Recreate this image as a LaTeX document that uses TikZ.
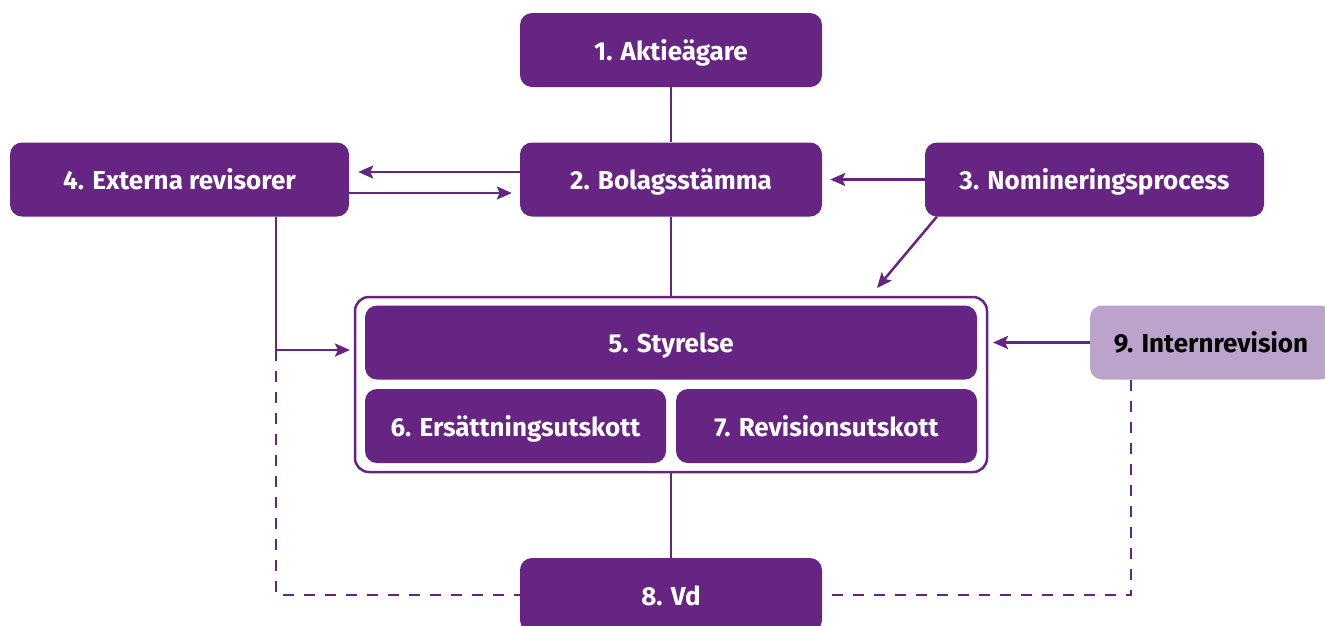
\documentclass[tikz,border=0pt]{standalone}
\usepackage{fontspec}
\setmainfont{Fira Sans}
\usetikzlibrary{arrows.meta}
\definecolor{dp}{HTML}{662483}
\definecolor{lp}{HTML}{BBA3CC}
\begin{document}
\begin{tikzpicture}[x=1pt,y=-1pt,
 box/.style={fill=dp, text=white, rounded corners=12pt, minimum width=302pt, minimum height=74pt, inner sep=0pt, text height=24pt, text depth=4pt, font=\fontsize{26}{30}\selectfont\bfseries},
 conn/.style={draw=dp, line width=2.5pt},
 arr/.style={conn, -{Stealth[length=15pt,width=13pt,inset=3pt]}},
 dashline/.style={conn, dash pattern=on 11pt off 10pt}]
\useasboundingbox (0,0) rectangle (1325,625);
\clip (0,0) rectangle (1325,625);
\node[box] (b1) at (671,50) {1. Aktieägare};
\node[box] (b2) at (671,179.5) {2. Bolagsstämma};
\node[box, minimum width=339pt] (b4) at (179.5,179.5) {4. Externa revisorer};
\node[box, minimum width=339pt] (b3) at (1094.5,179.5) {3. Nomineringsprocess};
\node[draw=dp, line width=2.5pt, rounded corners=14pt, minimum width=632pt, minimum height=175pt, inner sep=0pt] (fr) at (671,384.5) {};
\node[box, minimum width=612pt] (b5) at (671,342.5) {5. Styrelse};
\node[box, minimum width=301pt] (b6) at (515.5,426) {6. Ersättningsutskott};
\node[box, minimum width=301pt] (b7) at (826.5,426) {7. Revisionsutskott};
\node[box, fill=lp, text=black, minimum width=242pt] (b9) at (1211,342.5) {9. Internrevision};
\node[box] (b8) at (671,595) {8. Vd};
\coordinate (k4) at (276,350);
\coordinate (a4) at (350,350);
\coordinate (d4) at (276,595);
\coordinate (k9) at (1131,379.5);
\coordinate (d9) at (1131,595);
\coordinate (a9) at (993,342.5);
\coordinate (a3) at (877,288);
\draw[conn] (b1) -- (b2);
\draw[conn] (b2) -- (fr);
\draw[conn] (fr) -- (b8);
\draw[arr] ([yshift=7.5pt]b2.west) -- ([yshift=7.5pt,xshift=9pt]b4.east);
\draw[arr] ([yshift=-13.5pt]b4.east) -- ([yshift=-13.5pt,xshift=-8pt]b2.west);
\draw[arr] (b3.west) -- ([xshift=8pt]b2.east);
\draw[arr] ([xshift=12pt]b3.south west) -- (a3);
\draw[conn] ([xshift=96.5pt]b4.south) -- (k4);
\draw[arr] (k4) -- (a4);
\draw[dashline] (k4) -- (d4) -- (b8.west);
\draw[arr] (b9.west) -- (a9);
\draw[dashline] (k9) -- (d9) -- (b8.east);
\end{tikzpicture}
\end{document}
